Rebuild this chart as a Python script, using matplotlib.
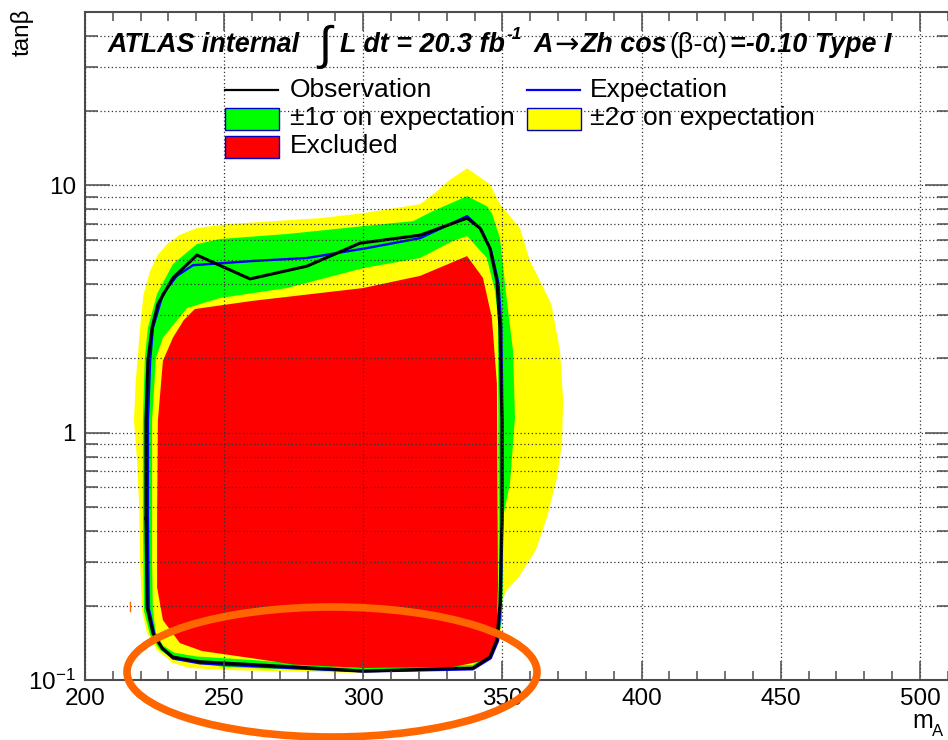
import numpy as np
import matplotlib
matplotlib.use('Agg')
import matplotlib.pyplot as plt
import matplotlib.transforms as mtransforms
from matplotlib.patches import Rectangle, Ellipse
from matplotlib.lines import Line2D
from matplotlib.ticker import FixedLocator, FixedFormatter, NullFormatter

plt.rcParams['font.family'] = ['Liberation Sans', 'DejaVu Sans']
plt.rcParams['mathtext.fontset'] = 'custom'
plt.rcParams['mathtext.rm'] = 'Liberation Sans'
plt.rcParams['mathtext.it'] = 'Liberation Sans:italic'
plt.rcParams['mathtext.bf'] = 'Liberation Sans:bold'

# ---------------- data (m_A [GeV], tan beta) ----------------
# outer edge of the +-2 sigma band
yel_out_m = [300.0, 251.0, 237.7, 231.6, 225.9, 222.3, 220.5, 219.8, 219.5, 218.6, 217.6, 218.2,
             219.8, 221.0, 223.4, 226.0, 229.5, 234.0, 240.2, 251.0, 284.4, 299.9, 320.4, 326.5,
             331.0, 337.3, 345.5, 349.1, 356.3, 359.9, 364.0, 367.6, 370.7, 371.8, 371.4, 369.6,
             366.0, 362.0, 356.0, 351.6, 349.8, 349.8, 349.1, 348.0, 345.5, 339.4]
yel_out_t = [0.1067, 0.1097, 0.1118, 0.117, 0.132, 0.155, 0.19, 0.30, 0.50, 0.80, 1.12, 1.60,
             2.65, 3.60, 4.50, 5.20, 5.78, 6.30, 6.71, 6.96, 7.36, 7.71, 8.38, 9.46,
             10.5, 11.7, 10.1, 8.38, 6.71, 4.94, 4.0, 3.3, 2.14, 1.35, 0.903, 0.658,
             0.454, 0.335, 0.262, 0.231, 0.21, 0.175, 0.145, 0.136, 0.1204, 0.1118]

# outer edge of the +-1 sigma band
grn_out_m = [300.0, 250.3, 232.3, 227.0, 223.4, 221.2, 220.8, 220.8, 221.5, 222.6, 225.9, 231.6,
             240.2, 248.5, 272.6, 299.9, 317.9, 325.0, 337.3, 344.4, 346.2, 349.1, 351.6, 353.8,
             354.5, 352.7, 350.2, 350.2, 349.8, 348.4, 347.3, 344.4, 339.4]
grn_out_t = [0.1077, 0.1128, 0.1204, 0.132, 0.152, 0.19, 0.45, 1.12, 2.0, 2.65, 3.64, 4.80,
             5.78, 6.06, 6.35, 6.83, 7.16, 7.86, 9.03, 8.23, 7.71, 6.11, 3.41, 2.14,
             1.15, 0.623, 0.454, 0.25, 0.175, 0.145, 0.134, 0.122, 0.1138]

# inner edge of the +-1 sigma band
grn_in_m = [300.0, 260.0, 240.0, 232.0, 228.0, 225.5, 224.4, 224.1, 224.1, 225.5, 228.0, 236.7,
            248.5, 272.6, 299.9, 320.4, 332.2, 337.3, 344.4, 347.3, 348.4, 348.6, 348.6, 347.6,
            345.0, 339.4]
grn_in_t = [0.1115, 0.1205, 0.1245, 0.129, 0.138, 0.155, 0.19, 0.30, 1.12, 2.0, 2.42, 3.19,
            3.50, 3.84, 4.62, 5.08, 5.95, 6.23, 5.08, 3.74, 2.91, 0.50, 0.20, 0.15,
            0.128, 0.115]

# excluded region
exc_m = [300.0, 275.0, 260.0, 250.3, 242.0, 234.1, 228.0, 225.9, 225.9, 226.2, 228.0, 231.6,
         235.5, 239.5, 260.4, 299.9, 320.4, 337.3, 343.0, 346.2, 348.0, 348.4, 348.0, 347.3,
         344.4, 332.2]
exc_t = [0.1118, 0.1155, 0.1225, 0.127, 0.131, 0.141, 0.1746, 0.237, 0.45, 1.12, 1.95, 2.42,
         2.85, 3.16, 3.41, 3.84, 4.30, 5.17, 4.22, 2.91, 1.58, 0.246, 0.145, 0.133,
         0.1204, 0.1128]

# observed limit
obs_m = [221.9, 221.9, 222.6, 224.1, 226.2, 231.6, 240.2, 259.3, 279.8, 298.8, 320.4, 337.3,
         341.9, 345.5, 348.0, 349.1, 349.8, 349.8, 349.1, 348.0, 345.5, 339.4, 300.0, 260.0,
         250.3, 241.3, 231.6, 227.7, 224.4, 222.3, 221.9]
obs_t = [0.45, 1.12, 1.95, 2.65, 3.31, 4.22, 5.22, 4.18, 4.71, 5.83, 6.28, 7.36,
         6.71, 5.57, 4.10, 2.65, 1.12, 0.442, 0.2045, 0.145, 0.1238, 0.1118, 0.1087, 0.1155,
         0.117, 0.1185, 0.1238, 0.1346, 0.1546, 0.1968, 0.45]

# expected limit
exp_m = [222.6, 222.6, 223.4, 224.4, 228.0, 233.0, 238.8, 260.4, 279.8, 301.3, 320.4, 337.3,
         342.5, 346.0, 348.6, 349.6, 350.0, 350.0, 349.4, 348.4, 345.8, 339.4, 300.0, 250.3,
         241.3, 231.6, 228.0, 225.0, 222.9, 222.6]
exp_t = [0.45, 1.12, 1.95, 2.65, 3.64, 4.30, 4.75, 4.94, 5.08, 5.57, 6.11, 7.50,
         6.60, 5.40, 4.00, 2.65, 1.12, 0.44, 0.204, 0.144, 0.1225, 0.1105, 0.1082, 0.1152,
         0.1168, 0.1222, 0.133, 0.152, 0.195, 0.45]

x_major = [200, 250, 300, 350, 400, 450, 500]
x_minor = list(range(200, 511, 10))
y_major = [0.1, 1, 10]
y_major_labels = ['10$^{-1}$', '1', '10']
y_minor = [0.2, 0.3, 0.4, 0.5, 0.6, 0.7, 0.8, 0.9, 2, 3, 4, 5, 6, 7, 8, 9, 20, 30, 40]

legend_entries = ['Observation', 'Expectation', '\u00b11\u03c3 on expectation',
                  '\u00b12\u03c3 on expectation', 'Excluded']

# ---------------- figure ----------------
W, H = 948, 740
fig = plt.figure(figsize=(W / 100, H / 100), dpi=100)
# pixel coordinates measured from the top-left corner of the picture
px = mtransforms.Affine2D().scale(1 / W, -1 / H).translate(0, 1) + fig.transFigure

ax = fig.add_axes([85 / W, 60 / H, 865 / W, 667.7 / H])
ax.set_yscale('log')
ax.set_xlim(200, 200 + 865 / 2.783)
ax.set_ylim(0.1, 50)

ax.fill(yel_out_m, yel_out_t, color='#ffff00', lw=0, zorder=1.0)
ax.fill(grn_out_m, grn_out_t, color='#00ff00', lw=0, zorder=1.1)
ax.fill(grn_in_m, grn_in_t, color='#ffff00', lw=0, zorder=1.2)
ax.fill(exc_m, exc_t, color='#ff0000', lw=0, zorder=1.3)
ax.plot(exp_m, exp_t, color='#0000ff', lw=1.7, zorder=2.0)
ax.plot(obs_m, obs_t, color='black', lw=2.2, zorder=2.1)

# ticks (ROOT style: inside, all four sides)
ax.xaxis.set_major_locator(FixedLocator(x_major))
ax.xaxis.set_minor_locator(FixedLocator(x_minor))
ax.xaxis.set_minor_formatter(NullFormatter())
ax.yaxis.set_major_locator(FixedLocator(y_major))
ax.yaxis.set_major_formatter(FixedFormatter(y_major_labels))
ax.yaxis.set_minor_locator(FixedLocator(y_minor))
ax.yaxis.set_minor_formatter(NullFormatter())

tick_col = '#4d4d4d'
ax.tick_params(which='both', direction='in', top=True, right=True, color=tick_col,
               width=1.1, labelsize=17.5)
ax.tick_params(axis='x', which='major', length=13.7, pad=5.5)
ax.tick_params(axis='x', which='minor', length=6.7)
ax.tick_params(axis='y', which='major', length=18, pad=6.5)
ax.tick_params(axis='y', which='minor', length=9.1)
for s in ax.spines.values():
    s.set_color(tick_col)
    s.set_linewidth(1.5)

ax.set_axisbelow(False)
grid_kw = dict(ls=(0, (1, 2)), lw=0.9, color='#333333')
ax.grid(axis='y', which='both', **grid_kw)
ax.grid(axis='x', which='major', **grid_kw)

# axis titles
fig.text(22, 8, 'tan\u03b2', transform=px, rotation=90, ha='center', va='top', fontsize=17.5)
fig.text(933, 728, 'm', transform=px, ha='right', va='baseline', fontsize=18)
fig.text(932, 736, 'A', transform=px, ha='left', va='baseline', fontsize=12)

# header line
bi = dict(fontsize=19.4, fontweight='bold', fontstyle='italic')
rg = dict(fontsize=19.4)
pieces = [
    ('ATLAS internal', bi, 0, 18),
    ('\u222b', dict(fontsize=34), 7, 9),
    ('L dt = 20.3 fb', bi, 0, 2),
    ('-1', dict(fontsize=12.5, fontweight='bold', fontstyle='italic'), -13, 11),
    ('A', bi, 0, 2),
    ('\u2192', dict(fontsize=21, family='DejaVu Sans'), 1, 2),
    ('Zh cos', bi, 0, 2),
    ('(\u03b2-\u03b1)', rg, 0, 2),
    ('=-0.10 Type I', bi, 0, 0),
]
renderer = fig.canvas.get_renderer()
x = 108
for s, kw, dy, gap in pieces:
    t = fig.text(x, 51.7 + dy, s, transform=px, ha='left', va='baseline', **kw)
    x += t.get_window_extent(renderer).width + gap

# legend (drawn by hand, ROOT layout)
fs_leg = 19
fig.add_artist(Line2D([225, 278], [90, 90], transform=px, color='black', lw=1.6))
fig.add_artist(Line2D([527, 580], [90, 90], transform=px, color='#0000ff', lw=1.6))
fig.add_artist(Rectangle((225, 108), 54, 22, transform=px, facecolor='#00ff00',
                         edgecolor='#0000cc', lw=1))
fig.add_artist(Rectangle((527, 108), 54, 22, transform=px, facecolor='#ffff00',
                         edgecolor='#0000cc', lw=1))
fig.add_artist(Rectangle((225, 136), 54, 22, transform=px, facecolor='#ff0000',
                         edgecolor='#0000cc', lw=1))
for lab, (lx, ly) in zip(legend_entries, [(290, 90), (590, 90), (290, 118), (590, 118), (290, 146)]):
    fig.text(lx, ly, lab, transform=px, ha='left', va='center', fontsize=fs_leg)

# hand-drawn highlight
fig.add_artist(Ellipse((332, 672), 410, 130, transform=px, fill=False,
                       edgecolor='#ff6600', lw=5.5))
fig.add_artist(Line2D([130, 130], [602, 611], transform=px, color='#ff6600', lw=1))

fig.savefig('out.png', dpi=100, facecolor='white')
